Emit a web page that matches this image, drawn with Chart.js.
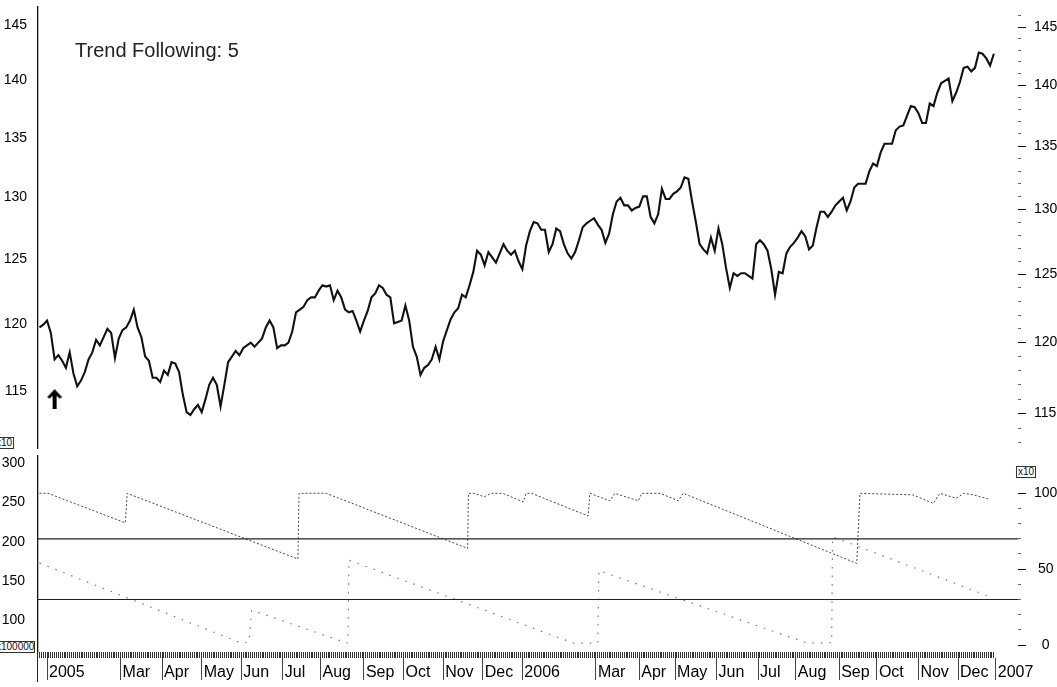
<!DOCTYPE html>
<html>
<head>
<meta charset="utf-8">
<script src="https://cdn.jsdelivr.net/npm/chart.js@4.4.1/dist/chart.umd.min.js"></script>
<style>
  html, body { margin: 0; padding: 0; background: #fff; }
  #wrap { position: relative; width: 1057px; height: 687px; overflow: hidden; font-family: 'Liberation Sans', Arial, sans-serif; }
  #priceCanvas { position: absolute; left: 0; top: 0; }
  #indCanvas { position: absolute; left: 0; top: 455px; }
  .note { position: absolute; color: #222; white-space: nowrap; }
  .boxed { position: absolute; font-size: 10px; line-height: 10px; border: 1px solid #333; padding: 0 1px; color: #111; background: #fff; white-space: nowrap; overflow: hidden; }
</style>
</head>
<body>
<div id="wrap">
  <canvas id="priceCanvas" width="1057" height="455"></canvas>
  <canvas id="indCanvas" width="1057" height="232"></canvas>
  <div class="note" style="left:75px; top:40px; font-size:20px; line-height:20px;">Trend Following: 5</div>
  <div class="boxed" style="left:-6px; top:437px;">x10</div>
  <div class="boxed" style="left:1016px; top:466px;">x10</div>
  <div class="boxed" style="left:-6px; top:641px; width:37px;">x100000</div>
  <div style="position:absolute; left:37px; top:652px; width:1px; height:30px; background:#222;"></div>
</div>
<script>
// x = trading session number, 0 = first session of 2005 (a few Dec 2004 days first)
const firstDay = -4;
const lastDay = 502;
const xMin = -4.8;
const xMax = 514.8;

// month labels under the lower panel
const monthIdx = [0, 39, 61, 82, 103, 125, 145, 168, 189, 210, 231, 252, 291, 314, 333, 355, 377, 397, 420, 440, 462, 483, 503];
const monthLabels = ['2005', 'Mar', 'Apr', 'May', 'Jun', 'Jul', 'Aug', 'Sep', 'Oct', 'Nov', 'Dec', '2006',
  'Mar', 'Apr', 'May', 'Jun', 'Jul', 'Aug', 'Sep', 'Oct', 'Nov', 'Dec', '2007'];

// price, one value every 2nd session starting at firstDay
const priceStep = 2;
const priceClose = [
  121.1, 121.3, 121.6, 120.7, 118.8, 119.1, 118.7, 118.2, 119.3, 117.8,
  116.9, 117.3, 117.9, 118.8, 119.3, 120.2, 119.8, 120.4, 121.0, 120.7,
  118.9, 120.3, 120.9, 121.1, 121.6, 122.4, 121.1, 120.4, 119.0, 118.7,
  117.5, 117.5, 117.2, 118.0, 117.7, 118.6, 118.5, 117.9, 116.3, 115.1,
  114.9, 115.3, 115.6, 115.1, 116.0, 117.0, 117.5, 117.0, 115.5, 117.0,
  118.6, 119.0, 119.4, 119.1, 119.6, 119.8, 120.0, 119.7, 120.0, 120.3,
  121.1, 121.6, 121.1, 119.6, 119.8, 119.8, 120.0, 120.8, 122.2, 122.4,
  122.6, 123.1, 123.3, 123.3, 123.8, 124.2, 124.1, 124.2, 123.1, 123.8,
  123.3, 122.4, 122.2, 122.3, 121.6, 120.8, 121.6, 122.3, 123.3, 123.6,
  124.2, 124.0, 123.5, 123.3, 121.4, 121.5, 121.6, 122.7, 121.6, 119.7,
  119.0, 117.7, 118.2, 118.4, 118.8, 119.7, 118.8, 120.1, 120.9, 121.7,
  122.2, 122.5, 123.5, 123.3, 124.2, 125.2, 126.8, 126.5, 125.7, 126.7,
  126.3, 125.9, 126.6, 127.3, 126.8, 126.5, 126.8, 126.0, 125.4, 127.2,
  128.3, 129.0, 128.9, 128.4, 128.4, 126.7, 127.3, 128.5, 128.3, 127.3,
  126.6, 126.2, 126.7, 127.6, 128.6, 128.9, 129.1, 129.3, 128.8, 128.4,
  127.4, 128.1, 129.6, 130.6, 130.9, 130.3, 130.3, 129.9, 130.1, 130.2,
  131.0, 131.0, 129.4, 128.9, 129.6, 131.6, 130.8, 130.8, 131.2, 131.4,
  131.7, 132.5, 132.4, 130.6, 129.0, 127.3, 126.9, 126.6, 127.8, 126.8,
  128.5, 127.3, 125.5, 124.0, 125.1, 124.9, 125.1, 125.1, 124.9, 124.7,
  127.3, 127.6, 127.3, 126.8, 125.4, 123.5, 125.2, 125.1, 126.6, 127.1,
  127.4, 127.8, 128.3, 127.9, 126.9, 127.2, 128.6, 129.8, 129.8, 129.4,
  129.8, 130.3, 130.6, 130.9, 129.9, 130.6, 131.7, 132.0, 132.0, 132.0,
  133.0, 133.6, 133.4, 134.5, 135.2, 135.2, 135.2, 136.3, 136.6, 136.7,
  137.5, 138.3, 138.2, 137.7, 136.9, 136.9, 138.5, 138.3, 139.4, 140.2,
  140.4, 140.6, 138.7, 139.4, 140.3, 141.5, 141.6, 141.2, 141.5, 142.8,
  142.7, 142.3, 141.7, 142.7
];

// buy arrow
const arrowDays = [4];
const arrowVals = [116.0];

// price axes
const priceTicksL = [115, 120, 125, 130, 135, 140, 145];
const priceTicksR = [113, 114, 115, 116, 117, 118, 119, 120, 121, 122, 123, 124, 125, 126, 127, 128, 129, 130,
  131, 132, 133, 134, 135, 136, 137, 138, 139, 140, 141, 142, 143, 144, 145, 146];

// lower panel: the two dotted lines (turning points)
const upDays = [-4, 0.5, 41.5, 42.5, 133, 133.6, 148, 223, 223.4, 226.5, 231.8, 235.4, 241.6, 252.5, 254, 256.9,
  286.9, 287.8, 298.4, 301, 313.5, 315.3, 325, 334.7, 337.3, 429.3, 431, 459, 469.9, 473.4, 482, 486, 491, 500];
const upVals = [100, 100, 80.5, 100, 56.7, 100, 100, 63.7, 100, 100, 97.7, 100, 100, 94.3, 100, 100,
  85, 100, 95, 100, 95, 100, 100, 95.1, 100, 53.8, 100, 99, 93.4, 100, 96.7, 100, 99, 96];
const downDays = [-4, 103, 107, 108.5, 158.5, 159.6, 160, 279, 292, 292.6, 403, 416, 416.5, 500];
const downVals = [54, 1.3, 2, 23, 1.5, 1.5, 56, 1.3, 1.3, 49, 1.3, 1.5, 71.4, 31.8];
const levels = [70, 30];

const indTicksR = [0, 10, 20, 30, 40, 50, 60, 70, 80, 90, 100];
const indTicksL = [100, 150, 200, 250, 300];

Chart.defaults.font.family = "'Liberation Sans', Arial, sans-serif";
Chart.defaults.color = '#111';

function arrowImage() {
  const c = document.createElement('canvas');
  c.width = 16; c.height = 20;
  const g = c.getContext('2d');
  g.fillStyle = '#000';
  g.beginPath();
  g.moveTo(8, 0);
  g.lineTo(15.5, 8);
  g.lineTo(13, 9.5);
  g.lineTo(10, 6.5);
  g.lineTo(10, 20);
  g.lineTo(6, 20);
  g.lineTo(6, 6.5);
  g.lineTo(3, 9.5);
  g.lineTo(0.5, 8);
  g.closePath();
  g.fill();
  return c;
}

function fixWidth(w) {
  return function(s) { s.width = w; s.paddingTop = 0; s.paddingBottom = 0; };
}
function fixHeight(h) {
  return function(s) { s.height = h; s.paddingLeft = 0; s.paddingRight = 0; };
}
function setTicks(list) {
  return function(s) { s.ticks = list.map(v => ({ value: v })); };
}

const baseOpts = {
  responsive: false,
  animation: false,
  events: [],
  layout: { padding: 0 },
  plugins: { legend: { display: false }, tooltip: { enabled: false } }
};

// upper panel: price
const priceData = priceClose.map((v, i) => ({ x: firstDay + i * priceStep, y: v }));

new Chart(document.getElementById('priceCanvas'), {
  type: 'line',
  data: {
    datasets: [
      { data: priceData, xAxisID: 'x', yAxisID: 'yR', borderColor: '#111', borderWidth: 2.1,
        pointRadius: 0, tension: 0 },
      { type: 'scatter', data: arrowDays.map((d, i) => ({ x: d, y: arrowVals[i] })),
        xAxisID: 'x', yAxisID: 'yR', pointStyle: arrowImage(), pointRadius: 6 }
    ]
  },
  options: Object.assign({}, baseOpts, {
    scales: {
      x: { type: 'linear', min: xMin, max: xMax, display: false },
      yL: {
        type: 'logarithmic', position: 'left', min: 110.92, max: 146.64, bounds: 'data',
        grid: { display: false },
        border: { display: true, color: '#111', width: 1.3 },
        ticks: { autoSkip: false, padding: 3, font: { size: 14 }, color: '#000', callback: v => String(v) },
        afterBuildTicks: setTicks(priceTicksL),
        afterFit: fixWidth(38)
      },
      yR: {
        type: 'logarithmic', position: 'right', min: 112.65, max: 146.76, bounds: 'data',
        grid: {
          display: true, drawOnChartArea: false, tickLength: 8,
          tickColor: c => (c.tick && c.tick.value % 5 === 0) ? '#111' : '#666',
          tickBorderDash: c => (c.tick && c.tick.value % 5 === 0) ? [] : [3, 20]
        },
        border: { display: false },
        ticks: { autoSkip: false, padding: 8, font: { size: 14 }, color: '#000',
          callback: v => (v % 5 === 0 ? String(v) : '') },
        afterBuildTicks: setTicks(priceTicksR),
        afterFit: fixWidth(39)
      }
    }
  })
});

// lower panel
const dayTicks = [];
for (let d = firstDay; d <= lastDay; d++) dayTicks.push(d);

const levelData = levels.map(l => [{ x: xMin, y: l }, { x: xMax, y: l }]);

new Chart(document.getElementById('indCanvas'), {
  type: 'line',
  data: {
    datasets: [
      { data: levelData[0], xAxisID: 'xDays', yAxisID: 'yIR', borderColor: '#222', borderWidth: 1.2, pointRadius: 0 },
      { data: levelData[1], xAxisID: 'xDays', yAxisID: 'yIR', borderColor: '#222', borderWidth: 1.2, pointRadius: 0 },
      { data: upDays.map((d, i) => ({ x: d, y: upVals[i] })), xAxisID: 'xDays', yAxisID: 'yIR',
        borderColor: '#444', borderWidth: 1, borderDash: [2, 2], pointRadius: 0, tension: 0 },
      { data: downDays.map((d, i) => ({ x: d, y: downVals[i] })), xAxisID: 'xDays', yAxisID: 'yIR',
        borderColor: '#777', borderWidth: 1.2, borderDash: [1.5, 7], pointRadius: 0, tension: 0 }
    ]
  },
  options: Object.assign({}, baseOpts, {
    scales: {
      xDays: {
        type: 'linear', position: 'bottom', min: xMin, max: xMax, bounds: 'data',
        border: { display: false },
        grid: { display: true, drawOnChartArea: false, tickLength: 6, tickColor: '#333', tickWidth: 1 },
        ticks: { display: false },
        afterBuildTicks: setTicks(dayTicks),
        afterFit: fixHeight(6)
      },
      xMonths: {
        type: 'linear', position: 'bottom', min: xMin, max: xMax, bounds: 'data',
        border: { display: false },
        grid: { display: true, drawOnChartArea: false, tickLength: 22, tickColor: '#444', tickWidth: 1 },
        ticks: { autoSkip: false, minRotation: 0, maxRotation: 0, align: 'start', padding: -17, labelOffset: 2,
          font: { size: 16 }, color: '#000', callback: (v, i) => monthLabels[i] },
        afterBuildTicks: setTicks(monthIdx),
        afterFit: fixHeight(29)
      },
      yIL: {
        type: 'linear', position: 'left', min: 59.16, max: 310.6, bounds: 'data',
        grid: { display: false },
        border: { display: true, color: '#111', width: 1.3 },
        ticks: { autoSkip: false, padding: 5, font: { size: 14 }, color: '#000', callback: v => String(v) },
        afterBuildTicks: setTicks(indTicksL),
        afterFit: fixWidth(38)
      },
      yIR: {
        type: 'linear', position: 'right', min: -4.61, max: 125.25, bounds: 'data',
        grid: {
          display: true, drawOnChartArea: false, tickLength: 8,
          tickColor: c => (c.tick && c.tick.value % 50 === 0) ? '#111' : '#666',
          tickBorderDash: c => (c.tick && c.tick.value % 50 === 0) ? [] : [3, 20]
        },
        border: { display: false },
        ticks: { autoSkip: false, padding: 8, crossAlign: 'center', font: { size: 14 }, color: '#000',
          callback: v => (v % 50 === 0 ? String(v) : '') },
        afterBuildTicks: setTicks(indTicksR),
        afterFit: fixWidth(39)
      }
    }
  })
});
</script>
</body>
</html>
